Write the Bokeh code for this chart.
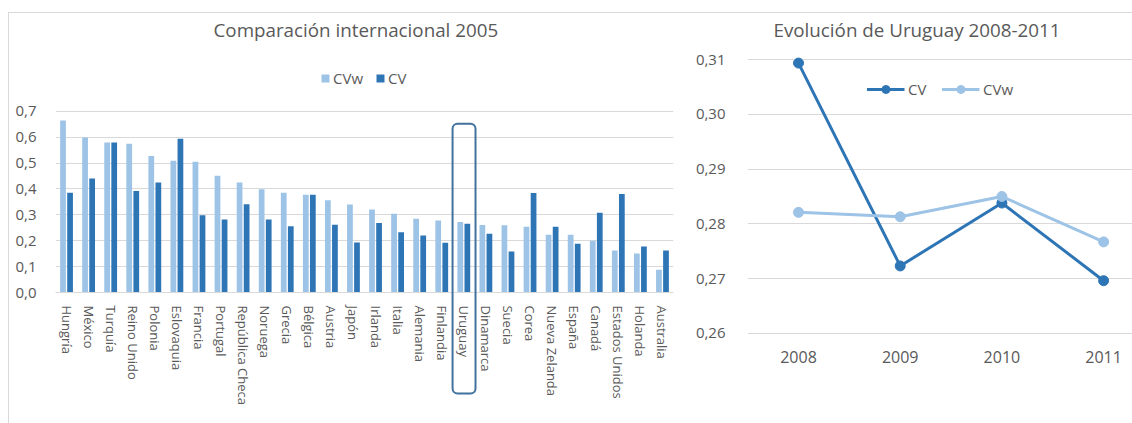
from bokeh.plotting import figure
from bokeh.models import (Range1d, FactorRange, FixedTicker, CustomJSTickFormatter,
                          BoxAnnotation, ColumnDataSource)
from bokeh.transform import dodge
from bokeh.layouts import row
from bokeh.embed import file_html
from bokeh.resources import INLINE

# ---------------- data ----------------
countries = ["Hungría", "México", "Turquía", "Reino Unido", "Polonia", "Eslovaquia",
             "Francia", "Portugal", "República Checa", "Noruega", "Grecia", "Bélgica",
             "Austria", "Japón", "Irlanda", "Italia", "Alemania", "Finlandia", "Uruguay",
             "Dinamarca", "Suecia", "Corea", "Nueva Zelanda", "España", "Canadá",
             "Estados Unidos", "Holanda", "Australia"]
cvw_2005 = [0.664, 0.598, 0.579, 0.574, 0.527, 0.509, 0.505, 0.451, 0.425, 0.399,
            0.385, 0.377, 0.356, 0.340, 0.320, 0.304, 0.285, 0.278, 0.272, 0.261,
            0.260, 0.254, 0.223, 0.223, 0.200, 0.162, 0.151, 0.088]
cv_2005 = [0.385, 0.440, 0.579, 0.392, 0.425, 0.594, 0.298, 0.282, 0.341, 0.282,
           0.256, 0.377, 0.262, 0.193, 0.268, 0.233, 0.220, 0.192, 0.265, 0.227,
           0.158, 0.384, 0.254, 0.188, 0.308, 0.380, 0.178, 0.162]
highlight = "Uruguay"

years = [2008, 2009, 2010, 2011]
cv_uru = [0.3094, 0.2723, 0.2838, 0.2696]
cvw_uru = [0.2821, 0.2813, 0.2850, 0.2767]

left_ticks = [0.0, 0.1, 0.2, 0.3, 0.4, 0.5, 0.6, 0.7]
right_ticks = [0.26, 0.27, 0.28, 0.29, 0.30, 0.31]

LIGHT = "#9dc3e6"
DARK = "#2e75b6"
TXT = "#595959"
GRID = "#d9d9d9"
FONT = "Open Sans"

LINE_IMG = "linear-gradient(#d9d9d9, #d9d9d9)"


def style(p):
    p.outline_line_color = None
    p.background_fill_color = "white"
    p.border_fill_color = None
    p.xgrid.grid_line_color = None
    p.ygrid.grid_line_color = GRID
    p.ygrid.grid_line_width = 1
    for ax in (p.xaxis, p.yaxis):
        ax.major_tick_line_color = None
        ax.minor_tick_line_color = None
        ax.major_label_text_color = TXT
        ax.major_label_text_font = FONT
    p.yaxis.axis_line_color = None
    p.title.text_font = FONT
    p.title.text_font_style = "normal"
    p.title.text_color = TXT
    p.title.text_font_size = "18.8px"
    p.title.align = "left"
    p.title.standoff = 6


def style_legend(lg, size):
    lg.orientation = "horizontal"
    lg.location = "top_center"
    lg.padding = 5
    lg.label_text_font = FONT
    lg.label_text_font_size = size
    lg.label_text_color = TXT
    lg.border_line_color = None
    lg.background_fill_alpha = 0


# ---------------- left chart ----------------
src = ColumnDataSource(dict(country=countries, cvw=cvw_2005, cv=cv_2005))
p1 = figure(x_range=FactorRange(*countries), y_range=Range1d(-0.4556, 0.9537),
            width=680, height=423, output_backend="svg", toolbar_location=None,
            min_border_left=55, min_border_right=7, min_border_top=45,
            min_border_bottom=13, title="Comparación internacional 2005",
            styles={"background-color": "white",
                    "background-image": f"{LINE_IMG}, {LINE_IMG}",
                    "background-size": "calc(100% - 8px) 1px, 1px calc(100% - 12px)",
                    "background-position": "8px 12px, 8px 12px",
                    "background-repeat": "no-repeat"})
style(p1)
p1.title.offset = 158
p1.vbar(x=dodge("country", -0.16, range=p1.x_range), top="cvw", width=0.26,
        source=src, fill_color=LIGHT, line_color=None, legend_label="CVw")
p1.vbar(x=dodge("country", 0.16, range=p1.x_range), top="cv", width=0.26,
        source=src, fill_color=DARK, line_color=None, legend_label="CV")
p1.yaxis.ticker = FixedTicker(ticks=left_ticks)
p1.yaxis.formatter = CustomJSTickFormatter(code="return tick.toFixed(1).replace('.', ',')")
p1.yaxis.major_label_text_font_size = "15px"
p1.yaxis.major_label_standoff = 13
p1.xaxis.fixed_location = 0
p1.xaxis.axis_line_color = GRID
p1.xaxis.major_label_orientation = "vertical"
p1.xaxis.major_label_text_font_size = "13px"
p1.xaxis.major_label_standoff = 7

lg = p1.legend[0]
style_legend(lg, "15px")
lg.glyph_width = 10
lg.glyph_height = 10
lg.label_standoff = 3
lg.spacing = 12
lg.margin = 23

idx = countries.index(highlight)
box = BoxAnnotation(left=idx - 0.01, right=idx + 1.03, top=0.652, bottom=-0.39,
                    fill_alpha=0, line_color="#41719c", line_alpha=1.0, line_width=2,
                    border_radius=5)
p1.add_layout(box)

# ---------------- right chart ----------------
p2 = figure(x_range=Range1d(2007.4985, 2011.284), y_range=Range1d(0.245863, 0.312615),
            width=452, height=423, output_backend="svg", toolbar_location=None,
            min_border_left=67, min_border_right=0, min_border_top=45,
            min_border_bottom=13, title="Evolución de Uruguay 2008-2011",
            styles={"background-color": "white",
                    "background-image": LINE_IMG,
                    "background-size": "100% 1px",
                    "background-position": "0px 12px",
                    "background-repeat": "no-repeat"})
style(p2)
p2.title.offset = 26
p2.line(years, cv_uru, line_color=DARK, line_width=3, legend_label="CV")
p2.scatter(years, cv_uru, size=10, fill_color=DARK, line_color=DARK, legend_label="CV")
p2.line(years, cvw_uru, line_color=LIGHT, line_width=3, legend_label="CVw")
p2.scatter(years, cvw_uru, size=10, fill_color=LIGHT, line_color=LIGHT, legend_label="CVw")
p2.yaxis.ticker = FixedTicker(ticks=right_ticks)
p2.yaxis.formatter = CustomJSTickFormatter(code="return tick.toFixed(2).replace('.', ',')")
p2.yaxis.major_label_text_font_size = "15px"
p2.yaxis.major_label_standoff = 16
p2.xaxis.ticker = FixedTicker(ticks=years)
p2.xaxis.fixed_location = 0.26
p2.xaxis.axis_line_color = None
p2.xaxis.major_label_text_font_size = "16px"
p2.xaxis.major_label_standoff = 12

lg2 = p2.legend[0]
style_legend(lg2, "15px")
lg2.glyph_width = 38
lg2.glyph_height = 20
lg2.label_standoff = 4
lg2.spacing = 13
lg2.margin = 34

layout = row(p1, p2)
open("out.html", "w").write(file_html(layout, INLINE))
